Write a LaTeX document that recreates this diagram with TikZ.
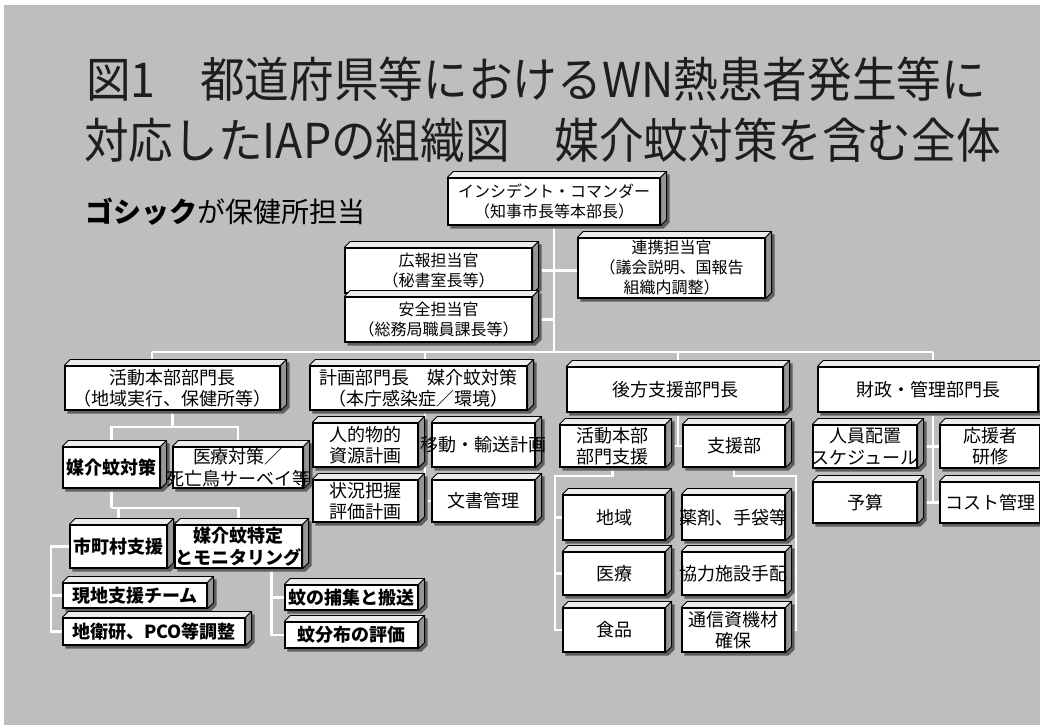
\documentclass[tikz,border=0pt]{standalone}
\usepackage{fontspec}
\usepackage{graphicx}
\newfontfamily\jp{Noto Sans CJK JP}
\usetikzlibrary{calc}
\pgfdeclarelayer{bg}\pgfdeclarelayer{lines}\pgfdeclarelayer{shad}
\pgfsetlayers{bg,lines,shad,main}
\definecolor{bgc}{RGB}{190,190,190}
\definecolor{sidec}{RGB}{150,150,150}
\definecolor{topc}{RGB}{236,236,236}
\definecolor{shc}{RGB}{95,95,95}
\definecolor{ttlc}{RGB}{30,30,30}
\tikzset{
 box/.style={draw=black, fill=white, line width=0.9pt, inner sep=0pt, rectangle},
 lbl/.style={font=\jp\fontsize{13.5}{16}\selectfont, align=center, inner sep=0pt, text=black},
 lblb/.style={lbl, font=\jp\bfseries\fontsize{13.5}{16}\selectfont},
 lbls/.style={lbl, font=\jp\fontsize{12}{15}\selectfont},
 conn/.style={draw=white, line width=1.6pt},
 bevtop/.style={draw=black, fill=topc, line width=0.6pt, line join=round},
 bevside/.style={draw=black, fill=sidec, line width=0.6pt, line join=round},
 ttl/.style={font=\jp\fontsize{36}{40}\selectfont, inner sep=0pt, anchor=west, text=ttlc},
}
\newcommand{\bev}[1]{%
 \begin{pgfonlayer}{shad}
 \fill[shc] ($(#1.north west)+(3,3)$) -- ($(#1.north west)+(9,-3)$) -- ($(#1.north east)+(9,-3)$) -- ($(#1.south east)+(9,-3)$) -- ($(#1.south east)+(3,3)$) -- ($(#1.south west)+(3,3)$) -- cycle;
 \end{pgfonlayer}
 \draw[bevtop] (#1.north west) -- ++(6,-6) -- ($(#1.north east)+(6,-6)$) -- (#1.north east) -- cycle;
 \draw[bevside] (#1.north east) -- ++(6,-6) -- ($(#1.south east)+(6,-6)$) -- (#1.south east) -- cycle;
}
\newcommand{\obox}[7][lbl]{%
 \node[box,minimum width={(#5-#3)*0.75pt},minimum height={(#6-#4)*0.75pt}] (#2) at ({(#3+#5)/2},{(#4+#6)/2}) {};
 \bev{#2}
 \node[#1] (#2-t) at (#2.center) {#7};
}
\begin{document}
\begin{tikzpicture}[x=0.75pt,y=-0.75pt]
\useasboundingbox (0,0) rectangle (1040,725);
\begin{pgfonlayer}{bg}
\fill[white] (0,0) rectangle (1040,725);
\fill[bgc] (4,5) rectangle (1040,725);
\end{pgfonlayer}
% title
\node[ttl] (t1) at (86,79) {\scalebox{0.93}[1]{図1　都道府県等におけるWN熱患者発生等に}};
\node[ttl] (t2) at (84,140) {\scalebox{0.93}[1]{対応したIAPの組織図　媒介蚊対策を含む全体}};
\node[anchor=west, inner sep=0pt, font=\jp\fontsize{21}{24}\selectfont] (sub) at (85,212) {{\bfseries ゴシック}が保健所担当};
% boxes
\obox[lbls]{ic}{448}{178}{660}{225}{インシデント・コマンダー\\（知事市長等本部長）}
\obox[lbls]{pr}{345}{248}{532}{293}{広報担当官\\（秘書室長等）}
\obox[lbls]{safe}{345}{297}{532}{342}{安全担当官\\（総務局職員課長等）}
\obox[lbls]{li}{578}{238}{765}{298}{連携担当官\\（議会説明、国報告\\組織内調整）}
\obox{act}{65}{366}{280}{410}{活動本部部門長\\（地域実行、保健所等）}
\obox{plan}{310}{366}{527}{410}{計画部門長　媒介蚊対策\\（本庁感染症／環境）}
\obox{log}{567}{367}{783}{412}{後方支援部門長}
\obox{fin}{818}{367}{1038}{412}{財政・管理部門長}
\obox[lblb]{vec}{63}{447}{160}{488}{媒介蚊対策}
\obox{surv}{173}{447}{303}{488}{医療対策／\\死亡鳥サーベイ等}
\obox{hr}{313}{423}{418}{467}{人的物的\\資源計画}
\obox{mv}{432}{423}{535}{467}{移動・輸送計画}
\obox{sit}{313}{480}{418}{522}{状況把握\\評価計画}
\obox{doc}{432}{480}{535}{522}{文書管理}
\obox{g1}{560}{425}{665}{467}{活動本部\\部門支援}
\obox{g2}{683}{425}{785}{467}{支援部}
\obox{staff}{813}{425}{917}{468}{人員配置\\スケジュール}
\obox{trn}{940}{425}{1040}{468}{応援者\\研修}
\obox{bud}{813}{482}{917}{523}{予算}
\obox{cost}{940}{482}{1040}{523}{コスト管理}
\obox[lblb]{mun}{70}{525}{167}{568}{市町村支援}
\obox[lblb]{mon}{175}{525}{302}{568}{媒介蚊特定\\とモニタリング}
\obox[lblb]{team}{63}{583}{207}{608}{現地支援チーム}
\obox[lblb]{lab}{63}{618}{245}{645}{地衛研、PCO等調整}
\obox[lblb]{trap}{285}{585}{418}{610}{蚊の捕集と搬送}
\obox[lblb]{dist}{285}{622}{418}{648}{蚊分布の評価}
\obox{area}{563}{495}{665}{540}{地域}
\obox{med}{563}{552}{665}{595}{医療}
\obox{food}{563}{608}{665}{652}{食品}
\obox{drug}{682}{495}{785}{540}{薬剤、手袋等}
\obox{coop}{682}{552}{785}{595}{協力施設手配}
\obox{comm}{682}{608}{785}{652}{通信資機材\\確保}
% connectors
\coordinate (bL) at (152,352);
\coordinate (bP) at (425,352);
\coordinate (bG) at (678,352);
\coordinate (bF) at (933,352);
\coordinate (pc) at ($(hr.east)!0.5!(mv.west)$);
\begin{pgfonlayer}{lines}
\draw[conn] (ic.south) -- (ic.south |- bL);
\draw[conn] (pr.east) -- (pr.east -| li.west);
\draw[conn] (safe.east) -- (safe.east -| ic.south);
\draw[conn] (bL) -- (bF);
\draw[conn] (bL) -- (bL |- act.north);
\draw[conn] (bP) -- (bP |- plan.north);
\draw[conn] (bG) -- (bG |- log.north);
\draw[conn] (bF) -- (bF |- fin.north);
\draw[conn] (act.south) -- ++(0,16) coordinate (aj);
\draw[conn] (vec.north) |- (aj) -| (surv.north);
\draw[conn] (vec.south) -- ++(0,19) coordinate (vj);
\draw[conn] (mun.north) |- (vj) -| (mon.north);
\draw[conn] (mun.west) -- ++(-18,0) |- (lab.west);
\draw[conn] (team.west) -- ++(-11,0);
\draw[conn] ($(mon.south)+(33,0)$) |- (dist.west);
\draw[conn] (trap.west) -- ++(-14,0);
\draw[conn] (pc |- plan.south) -- (pc |- doc.west);
\draw[conn] (hr.east) -- (mv.west);
\draw[conn] (sit.east) -- (doc.west);
\draw[conn] (bG |- log.south) -- (bG |- g1.east);
\draw[conn] (g1.east) -- (g2.west);
\draw[conn] (g1.south) -- ++(0,8) -| ($(food.west)+(-7,0)$) -- (food.west);
\draw[conn] (area.west) -- ++(-7,0);
\draw[conn] (med.west) -- ++(-7,0);
\draw[conn] (g2.south) -- ++(0,8) -| ($(comm.east)+(10,0)$) -- (comm.east);
\draw[conn] (drug.east) -- ++(10,0);
\draw[conn] (coop.east) -- ++(10,0);
\draw[conn] (bF |- fin.south) -- (bF |- bud.east);
\draw[conn] (staff.east) -- (trn.west);
\draw[conn] (bud.east) -- (cost.west);
\end{pgfonlayer}
\end{tikzpicture}
\end{document}
